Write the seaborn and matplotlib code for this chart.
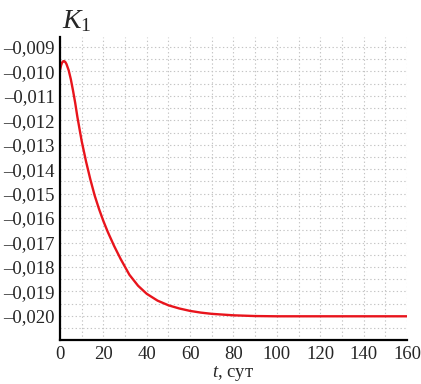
import numpy as np
import pandas as pd
import seaborn as sns
import matplotlib.pyplot as plt
from matplotlib.ticker import MultipleLocator, FuncFormatter

# values
t_days = [0, 0.5, 1, 1.5, 2, 2.5, 3, 4, 5, 6, 7, 8, 10, 12, 14, 16, 18, 20, 22,
          25, 28, 32, 36, 40, 45, 50, 55, 60, 65, 70, 80, 90, 100, 120, 140, 160]
k1 = [-0.00995, -0.00975, -0.00963, -0.00958, -0.00958, -0.00962, -0.00970,
      -0.00995, -0.01032, -0.01078, -0.01128, -0.01185, -0.01285, -0.01368,
      -0.01442, -0.01508, -0.01563, -0.01612, -0.01656, -0.01715, -0.01768,
      -0.01832, -0.01877, -0.01910, -0.01938, -0.01957, -0.01970, -0.01980,
      -0.01987, -0.01992, -0.01998, -0.02001, -0.02002, -0.02002, -0.02002,
      -0.02002]

df = pd.DataFrame({"t": t_days, "K1": k1})

sns.set_style("white")
plt.rcParams["font.family"] = ["Liberation Serif", "DejaVu Serif"]
plt.rcParams["mathtext.fontset"] = "custom"
plt.rcParams["mathtext.rm"] = "Liberation Serif"
plt.rcParams["mathtext.it"] = "Liberation Serif:italic"

fig = plt.figure(figsize=(4.21, 3.84), dpi=100)
ax = fig.add_axes([0.1425, 0.1146, 0.8242, 0.789])

sns.lineplot(data=df, x="t", y="K1", color="#e8141c", linewidth=1.7, ax=ax)

ax.set_xlim(0, 160)
ax.set_ylim(-0.02099, -0.00859)
ax.xaxis.set_major_locator(MultipleLocator(20))
ax.xaxis.set_minor_locator(MultipleLocator(10))
ax.yaxis.set_major_locator(MultipleLocator(0.001))
ax.yaxis.set_minor_locator(MultipleLocator(0.0005))


def fmt(v, pos):
    if abs(v) < 1e-12:
        return "0"
    s = f"{abs(v):.3f}".replace(".", ",")
    return ("–" if v < 0 else "") + s


ax.yaxis.set_major_formatter(FuncFormatter(fmt))
ax.grid(which="both", color="#c4c4c4", linestyle=(0, (1.2, 2.2)), linewidth=0.8)
ax.tick_params(which="both", length=0, labelsize=13.5, pad=4)

for side in ["top", "right"]:
    ax.spines[side].set_visible(False)
for side in ["left", "bottom"]:
    ax.spines[side].set_color("black")
    ax.spines[side].set_linewidth(1.6)

ax.set_xlabel("$t$, сут", fontsize=13.5, labelpad=1)
ax.set_ylabel("")
ax.text(0.005, 1.01, "$K_1$", transform=ax.transAxes, fontsize=20,
        ha="left", va="bottom")

fig.savefig("out.png", dpi=100)
